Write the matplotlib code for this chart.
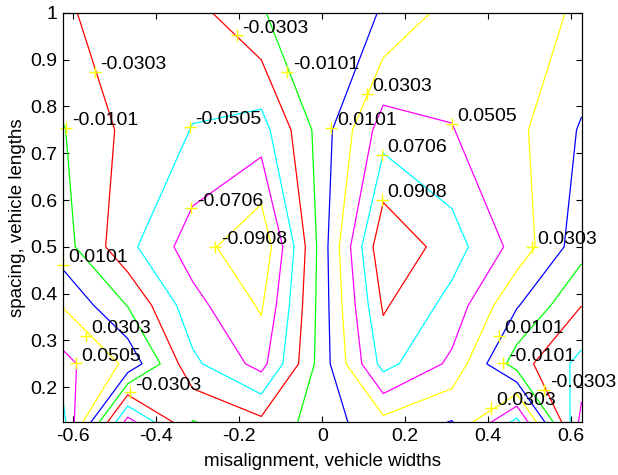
import matplotlib
matplotlib.use("Agg")
import matplotlib.pyplot as plt
import numpy as np

# grid (misalignment in vehicle widths, spacing in vehicle lengths)
misalignment = [-0.625, -0.469, -0.3125, -0.147, 0.0, 0.147, 0.3125, 0.469, 0.625]
spacing = [0.125, 0.25, 0.375, 0.5, 0.75, 1.0]

# values, one row per spacing value
z_0125 = [0.078, -0.080, -0.009, -0.025, 0.000, 0.024, 0.009, 0.078, -0.078]
z_0250 = [0.057, 0.026, -0.046, -0.078, 0.000, 0.078, 0.046, -0.021, -0.057]
z_0375 = [0.029, -0.011, -0.0635, -0.0935, 0.000, 0.0935, 0.0635, 0.012, -0.030]
z_0500 = [-0.002, -0.045, -0.081, -0.109, 0.000, 0.109, 0.080, 0.043, -0.002]
z_0750 = [-0.009, -0.0357, -0.0512, -0.059, 0.000, 0.061, 0.0512, 0.0352, 0.008]
z_1000 = [-0.027, -0.042, -0.038, -0.011, 0.000, 0.0112, 0.039, 0.040, 0.027]

levels = [-0.0908, -0.0706, -0.0505, -0.0303, -0.0101,
          0.0101, 0.0303, 0.0505, 0.0706, 0.0908]
level_colors = ['#ffff00', '#ff00ff', '#00ffff', '#ff0000', '#00ff00',
                '#0000ff', '#ffff00', '#ff00ff', '#00ffff', '#ff0000']

# contour labels (clabel style: "+" marker with text beside it)
label_x = [-0.206, -0.548, -0.617, -0.319, -0.316, -0.258, -0.084, 0.022, 0.108,
           0.313, 0.144, 0.144, 0.505, 0.426, 0.436, 0.535, 0.406,
           -0.625, -0.570, -0.594, -0.464]
label_y = [0.952, 0.874, 0.754, 0.756, 0.582, 0.500, 0.874, 0.754, 0.826,
           0.762, 0.697, 0.600, 0.499, 0.309, 0.251, 0.194, 0.156,
           0.462, 0.309, 0.251, 0.189]
label_text = ['-0.0303', '-0.0303', '-0.0101', '-0.0505', '-0.0706', '-0.0908',
              '-0.0101', '0.0101', '0.0303', '0.0505', '0.0706', '0.0908',
              '0.0303', '0.0101', '-0.0101', '-0.0303', '0.0303',
              '0.0101', '0.0303', '0.0505', '-0.0303']

plt.rcParams['font.family'] = ['Liberation Sans', 'DejaVu Sans']

Z = np.array([z_0125, z_0250, z_0375, z_0500, z_0750, z_1000])

fig = plt.figure(figsize=(6.18, 4.75), dpi=100)
ax = fig.add_axes([0.102, 0.111, 0.839, 0.862])

ax.contour(misalignment, spacing, Z, levels=levels, colors=level_colors,
           linewidths=0.9, linestyles='solid')

ax.plot(label_x, label_y, '+', color='#ffff00', ms=8, mew=1.0, clip_on=False)
for x, y, t in zip(label_x, label_y, label_text):
    ax.annotate(t, (x, y), xytext=(4.0, 2.0), textcoords='offset points',
                fontsize=14, ha='left', va='baseline', annotation_clip=False)

ax.set_xlim(-0.625, 0.625)
ax.set_ylim(0.125, 1.0)
ax.set_xticks([-0.6, -0.4, -0.2, 0, 0.2, 0.4, 0.6])
ax.set_xticklabels(['-0.6', '-0.4', '-0.2', '0', '0.2', '0.4', '0.6'])
ax.set_yticks([0.2, 0.3, 0.4, 0.5, 0.6, 0.7, 0.8, 0.9, 1.0])
ax.set_yticklabels(['0.2', '0.3', '0.4', '0.5', '0.6', '0.7', '0.8', '0.9', '1'])
ax.tick_params(direction='in', top=True, right=True, length=4.5, width=0.8,
               labelsize=14, pad=4)
for s in ax.spines.values():
    s.set_linewidth(0.9)

ax.set_xlabel('misalignment, vehicle widths', fontsize=13.5, labelpad=6)
ax.set_ylabel('spacing, vehicle lengths', fontsize=13.5, labelpad=3)

fig.savefig('out.png', dpi=100)
